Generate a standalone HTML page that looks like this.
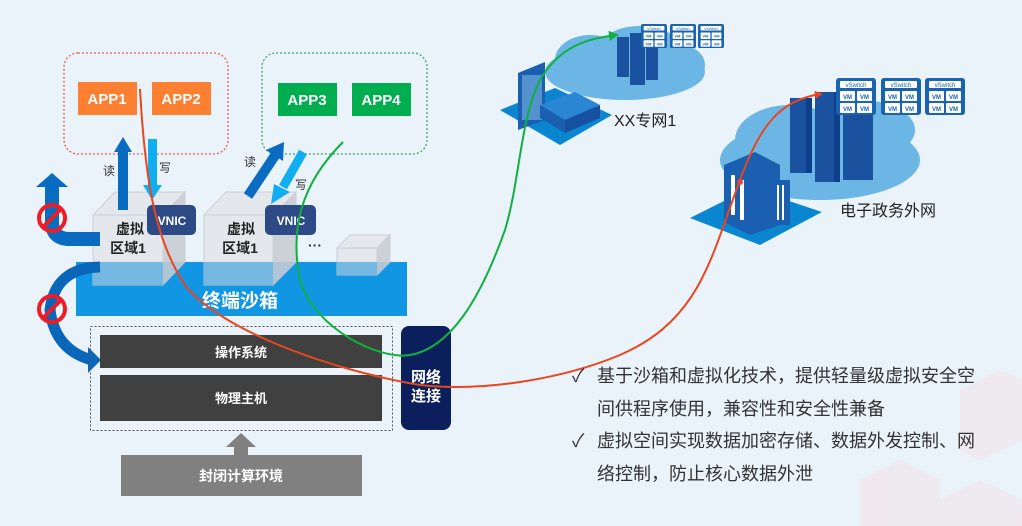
<!DOCTYPE html>
<html><head><meta charset="utf-8"><style>
html,body{margin:0;padding:0;}
body{width:1022px;height:526px;background:#eaf2fa;overflow:hidden;position:relative;font-family:"Liberation Sans","Noto Sans CJK SC",sans-serif;}
</style></head><body>
<svg width="1022" height="526" style="position:absolute;left:0;top:0" font-family="Liberation Sans, Noto Sans CJK SC, sans-serif">
<defs>
<marker id="ar" markerWidth="8" markerHeight="8" refX="6" refY="4" orient="auto" markerUnits="userSpaceOnUse"><path d="M0,0 L8,4 L0,8 Z" fill="#e8461e"/></marker>
<marker id="ag" markerWidth="10" markerHeight="10" refX="8" refY="5" orient="auto" markerUnits="userSpaceOnUse"><path d="M0,0 L10,5 L0,10 Z" fill="#10b040"/></marker>
<g id="vs"><rect x="0" y="0" width="40" height="37" rx="3" fill="#1a63b0"/><rect x="4" y="3" width="32" height="7" rx="1" fill="#fff"/><text x="20" y="9" font-size="6" fill="#1a63b0" text-anchor="middle">vSwitch</text><rect x="4" y="13" width="15" height="10" rx="1" fill="#fff"/><rect x="21" y="13" width="15" height="10" rx="1" fill="#fff"/><rect x="4" y="25" width="15" height="10" rx="1" fill="#fff"/><rect x="21" y="25" width="15" height="10" rx="1" fill="#fff"/><text x="11.5" y="21" font-size="6" fill="#1a63b0" text-anchor="middle" font-weight="bold">VM</text><text x="28.5" y="21" font-size="6" fill="#1a63b0" text-anchor="middle" font-weight="bold">VM</text><text x="11.5" y="33" font-size="6" fill="#1a63b0" text-anchor="middle" font-weight="bold">VM</text><text x="28.5" y="33" font-size="6" fill="#1a63b0" text-anchor="middle" font-weight="bold">VM</text></g>
</defs>
<g fill="#f4e4e8" opacity="0.55"><polygon points="960,390 1000,370 1022,380 1022,440 980,460 960,450"/><polygon points="860,480 900,460 940,480 940,526 860,526"/><polygon points="940,500 980,480 1022,500 1022,526 940,526"/></g>

<!-- cloud 1 -->
<g fill="#6cb6e6"><ellipse cx="625" cy="72" rx="80" ry="28"/><ellipse cx="590" cy="60" rx="35" ry="25"/><ellipse cx="640" cy="48" rx="40" ry="22"/><ellipse cx="680" cy="65" rx="25" ry="20"/></g>
<polygon points="500,110 555,88 612,115 560,145" fill="#0a86d0"/>
<polygon points="518,73 545,62 545,120 518,130" fill="#1a5fb0"/><rect x="522" y="75" width="20" height="45" fill="#8ec5ee" opacity="0.5"/>
<polygon points="540,105 575,92 600,105 565,120" fill="#2a86d2"/><polygon points="540,105 565,120 565,133 540,118" fill="#1a5fb0"/><polygon points="565,120 600,105 600,118 565,133" fill="#1750a0"/>
<g fill="#1a52a0"><rect x="617" y="37" width="12" height="40"/><rect x="630" y="33" width="15" height="52"/><rect x="646" y="40" width="12" height="40"/></g>
<use href="#vs" transform="translate(641,24) scale(0.65)"/><use href="#vs" transform="translate(670,24) scale(0.65)"/><use href="#vs" transform="translate(698,24) scale(0.65)"/>
<text x="614" y="126" font-size="16" fill="#222">XX专网1</text>

<!-- cloud 2 -->
<g fill="#6cb6e6"><ellipse cx="820" cy="160" rx="100" ry="40"/><ellipse cx="790" cy="140" rx="55" ry="35"/><ellipse cx="860" cy="130" rx="55" ry="30"/></g>
<g fill="#1a52a0"><rect x="790" y="98" width="22" height="75"/><rect x="815" y="92" width="25" height="90"/><rect x="843" y="100" width="30" height="80"/></g>
<g fill="#0d3f8a"><rect x="806" y="98" width="6" height="75"/><rect x="834" y="92" width="6" height="90"/></g>
<use href="#vs" transform="translate(836,78)"/><use href="#vs" transform="translate(881,78)"/><use href="#vs" transform="translate(925,78)"/>
<polygon points="690,218 750,188 822,212 760,245" fill="#0a86d0"/>
<polygon points="724,165 755,152 780,165 780,225 750,235 724,222" fill="#1a5fb0"/>
<rect x="731" y="175" width="4" height="40" fill="#fff"/><rect x="740" y="180" width="4" height="40" fill="#fff"/><circle cx="740" cy="182" r="3" fill="#e04a5a"/>
<rect x="773" y="180" width="17" height="45" fill="#1a5fb0"/><rect x="777" y="185" width="2" height="35" fill="#fff"/><rect x="782" y="185" width="2" height="35" fill="#fff"/>
<text x="840" y="216" font-size="16" fill="#222">电子政务外网</text>

<!-- app boxes -->
<rect x="64" y="53" width="164" height="101" rx="14" fill="none" stroke="#e8604f" stroke-width="1.3" stroke-dasharray="2,2"/>
<rect x="262" y="53" width="165" height="101" rx="14" fill="none" stroke="#3aa870" stroke-width="1.3" stroke-dasharray="2,2"/>
<rect x="78" y="82" width="59" height="33" fill="#fd7f32"/><rect x="152" y="82" width="59" height="33" fill="#fd7f32"/>
<rect x="278" y="83" width="59" height="33" fill="#00ae4f"/><rect x="352" y="83" width="59" height="33" fill="#00ae4f"/>
<g font-size="15" font-weight="bold" fill="#fff" text-anchor="middle"><text x="107" y="104">APP1</text><text x="181" y="104">APP2</text><text x="307" y="105">APP3</text><text x="381" y="105">APP4</text></g>

<rect x="76" y="262" width="331" height="54" fill="#1196e4"/>
<text x="240" y="307" font-size="19" font-weight="bold" fill="#fff" text-anchor="middle">终端沙箱</text>

<g opacity="0.88">
<polygon points="93,215 115,192 185,192 163,215" fill="#e4e7ec" stroke="#c8ccd2"/>
<polygon points="163,215 185,192 185,262 163,285" fill="#c8cdd4" stroke="#c8ccd2"/>
<rect x="93" y="215" width="70" height="70" fill="#e4e7ec" stroke="#c8ccd2"/>
<polygon points="204,215 226,192 296,192 273,215" fill="#e4e7ec" stroke="#c8ccd2"/>
<polygon points="273,215 296,192 296,262 273,285" fill="#c8cdd4" stroke="#c8ccd2"/>
<rect x="204" y="215" width="69" height="70" fill="#e4e7ec" stroke="#c8ccd2"/>
<polygon points="337,248 350,235 390,235 377,248" fill="#e4e7ec" stroke="#c8ccd2"/>
<polygon points="377,248 390,235 390,262 377,275" fill="#c8cdd4" stroke="#c8ccd2"/>
<rect x="337" y="248" width="40" height="27" fill="#e4e7ec" stroke="#c8ccd2"/>
</g>
<rect x="93" y="262" width="70" height="23" fill="#6cb4e0" opacity="0.9"/><rect x="204" y="262" width="69" height="23" fill="#6cb4e0" opacity="0.9"/><rect x="337" y="262" width="40" height="13" fill="#6cb4e0" opacity="0.9"/>
<g font-size="14" font-weight="bold" fill="#222" text-anchor="middle"><text x="130" y="234">虚拟</text><text x="128" y="253">区域1</text><text x="241" y="234">虚拟</text><text x="240" y="253">区域1</text></g>
<text x="315" y="250" font-size="14" font-weight="bold" fill="#333" text-anchor="middle">···</text>
<rect x="147" y="205" width="49" height="30" rx="5" fill="#2d4a86"/><rect x="265" y="205" width="51" height="30" rx="5" fill="#2d4a86"/>
<g font-size="12" font-weight="bold" fill="#fff" text-anchor="middle"><text x="172" y="225">VNIC</text><text x="291" y="225">VNIC</text></g>

<rect x="118" y="150" width="10" height="60" fill="#0a6cc0"/><polygon points="114,152 123,137 132,152" fill="#0a6cc0"/>
<rect x="148" y="139" width="9" height="48" fill="#10aef0"/><polygon points="143,185 152,200 162,185" fill="#10aef0"/>
<line x1="248" y1="196" x2="276" y2="154" stroke="#0a6cc0" stroke-width="10"/><polygon points="266,150 284,142 283,161" fill="#0a6cc0"/>
<line x1="303" y1="152" x2="283" y2="187" stroke="#10aef0" stroke-width="9"/><polygon points="274,184 290,192 271,204" fill="#10aef0"/>
<g font-size="12" fill="#333"><text x="103" y="175">读</text><text x="159" y="172">写</text><text x="244" y="166">读</text><text x="295" y="189">写</text></g>

<path d="M100,239 L70,239 Q52,239 52,222 L52,186" fill="none" stroke="#0a6cc0" stroke-width="14"/>
<polygon points="36,187 52,173 68,187" fill="#0a6cc0"/>
<path d="M100,267 Q55,268 50,310 Q55,350 92,360" fill="none" stroke="#0a66b8" stroke-width="11"/>
<polygon points="88,347 101,360 88,373" fill="#0a66b8"/>
<g fill="none" stroke="#ee1c25" stroke-width="4"><circle cx="52" cy="218" r="13"/><line x1="43" y1="227" x2="61" y2="209"/><circle cx="52" cy="309" r="13"/><line x1="43" y1="318" x2="61" y2="300"/></g>

<rect x="90.5" y="326.5" width="302" height="104" fill="none" stroke="#555" stroke-dasharray="2,2"/>
<rect x="100" y="335" width="282" height="33" fill="#404040"/><rect x="100" y="375" width="282" height="46" fill="#404040"/>
<g font-size="13" font-weight="bold" fill="#fff" text-anchor="middle"><text x="241" y="357">操作系统</text><text x="241" y="403">物理主机</text></g>
<rect x="401" y="326" width="50" height="104" rx="8" fill="#0a1f5c"/>
<g font-size="15" font-weight="bold" fill="#fff" text-anchor="middle"><text x="426" y="382">网络</text><text x="426" y="401">连接</text></g>
<rect x="234" y="445" width="14" height="12" fill="#808080"/><polygon points="226,447 241,433 256,447" fill="#808080"/>
<rect x="121" y="455" width="241" height="41" fill="#808080"/>
<text x="241" y="481" font-size="14" font-weight="bold" fill="#fff" text-anchor="middle">封闭计算环境</text>

<path d="M140,89 C145,180 155,240 185,285 C220,330 330,370 420,385 C480,392 560,380 620,355 C700,320 710,260 740,180 C760,125 780,100 821,94" fill="none" stroke="#e8461e" stroke-width="2" marker-end="url(#ar)"/>
<path d="M343,142 C300,185 290,230 300,280 C315,330 380,360 410,355 C450,348 480,300 505,230 C520,180 520,120 540,80 C560,45 590,38 617,35" fill="none" stroke="#10b040" stroke-width="2" marker-end="url(#ag)"/>

<g font-size="18" fill="#333"><text x="572" y="382">✓</text><text x="597" y="382">基于沙箱和虚拟化技术，提供轻量级虚拟安全空</text><text x="597" y="415">间供程序使用，兼容性和安全性兼备</text><text x="572" y="447">✓</text><text x="597" y="447">虚拟空间实现数据加密存储、数据外发控制、网</text><text x="597" y="480">络控制，防止核心数据外泄</text></g>
</svg>
</body></html>
